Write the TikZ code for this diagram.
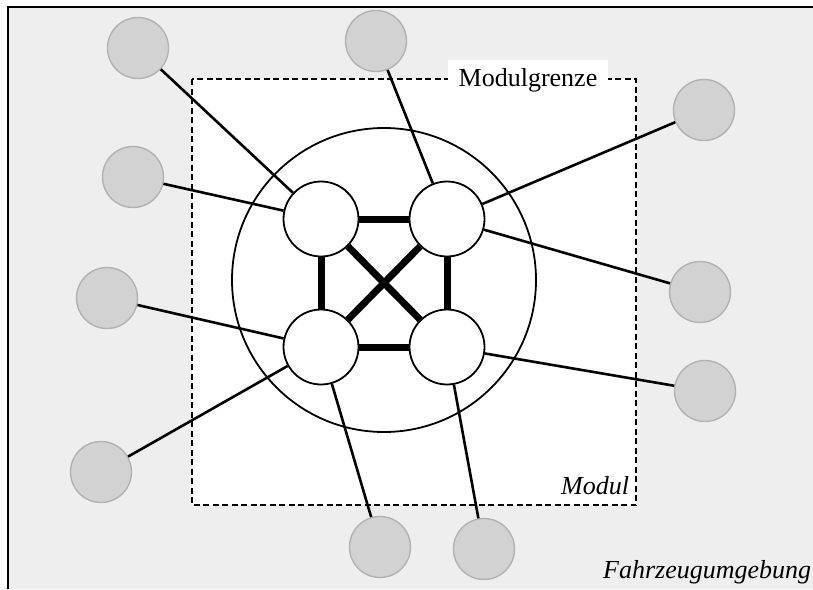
\documentclass[tikz,border=0pt]{standalone}
\usepackage{fontspec}
\setmainfont{Liberation Serif}
\begin{document}
\begin{tikzpicture}[x=1pt,y=-1pt,
  env/.style={circle,minimum size=61pt,inner sep=0pt,fill=gray!35,draw=gray!60,line width=1.4pt},
  unit/.style={circle,minimum size=75pt,inner sep=0pt,fill=white,draw=black,line width=1.8pt},
  wire/.style={line width=2.6pt},
  bus/.style={line width=7pt},
  lbl/.style={font=\fontsize{26}{30}\selectfont,inner sep=0pt}]
\useasboundingbox (0,0) rectangle (813,589);
% vehicle environment
\fill[gray!13] (8,7) rectangle (813,589);
\draw[line width=2.4pt] (8,589) -- (8,7) -- (813,7);
% module boundary
\draw[fill=white,dash pattern=on 6pt off 3.5pt,line width=2.2pt] (192,79) rectangle (636,505);
\node[lbl,fill=white,inner xsep=11pt,inner ysep=8pt] (grenze) at (528,80) {Modulgrenze};
\node[lbl,anchor=base west,font=\fontsize{26}{30}\selectfont\itshape] (modul) at (561,494) {Modul};
\node[lbl,anchor=base west,font=\fontsize{26}{30}\selectfont\itshape] (umgebung) at (603,578) {Fahrzeugumgebung};
% module core
\node[circle,minimum size=304pt,inner sep=0pt,draw=black,line width=1.8pt] (core) at (384,280) {};
% outer participants
\node[env] (g1) at (138,48) {};
\node[env] (g2) at (376,41) {};
\node[env] (g3) at (704,110) {};
\node[env] (g4) at (133,177) {};
\node[env] (g5) at (700,292) {};
\node[env] (g6) at (107,298) {};
\node[env] (g7) at (705,391) {};
\node[env] (g8) at (101,472) {};
\node[env] (g9) at (380,547) {};
\node[env] (g10) at (484,549) {};
% internal units
\node[unit] (tl) at (321,219) {};
\node[unit] (tr) at (447,219) {};
\node[unit] (bl) at (321,347) {};
\node[unit] (br) at (447,347) {};
% external links
\draw[wire] (g1) -- (tl);
\draw[wire] (g2) -- (tr);
\draw[wire] (g3) -- (tr);
\draw[wire] (g4) -- (tl);
\draw[wire] (g5) -- (tr);
\draw[wire] (g6) -- (bl);
\draw[wire] (g7) -- (br);
\draw[wire] (g8) -- (bl);
\draw[wire] (g9) -- (bl);
\draw[wire] (g10) -- (br);
% internal bus
\draw[bus] (tl) -- (tr);
\draw[bus] (bl) -- (br);
\draw[bus] (tl) -- (bl);
\draw[bus] (tr) -- (br);
\draw[bus] (tl) -- (br);
\draw[bus] (tr) -- (bl);
\end{tikzpicture}
\end{document}
